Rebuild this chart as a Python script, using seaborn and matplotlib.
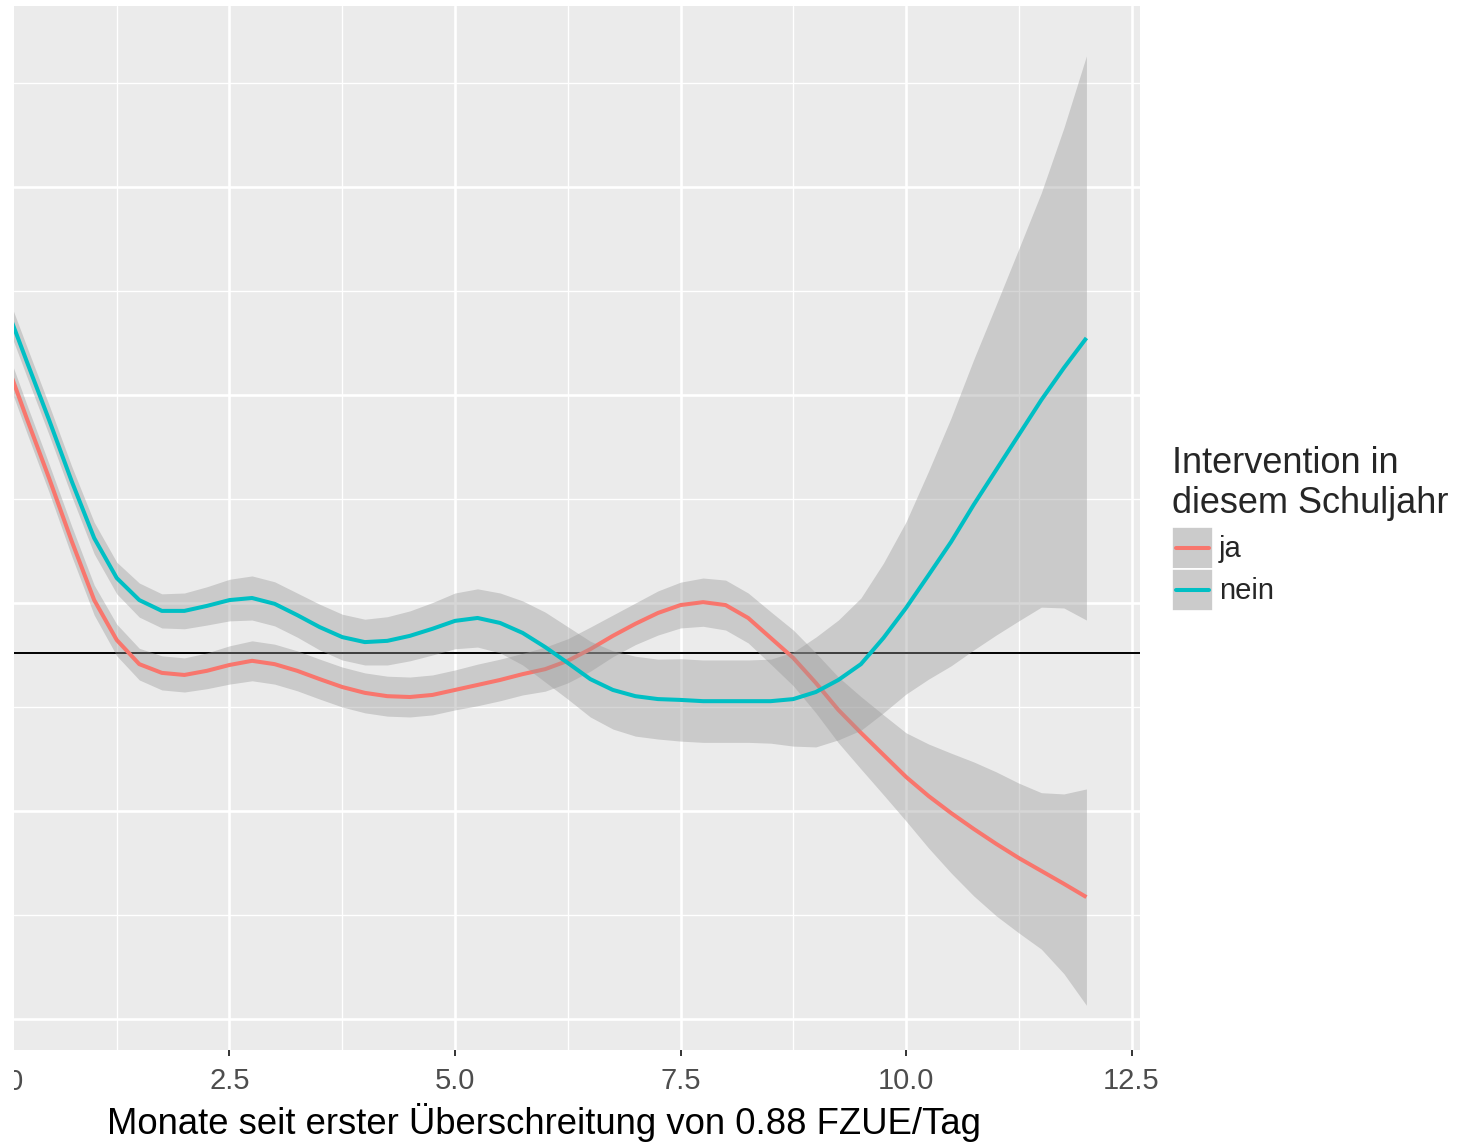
import numpy as np
import pandas as pd
import matplotlib
matplotlib.use("Agg")
import matplotlib.pyplot as plt
import matplotlib.transforms as mtransforms
from matplotlib.patches import Rectangle
from matplotlib.lines import Line2D
import seaborn as sns

# --- Daten ---
# x: Monate seit erster Überschreitung, Schrittweite 0.25
monate = np.arange(0, 12.25, 0.25)

# Gruppe "ja": geglättete Kurve und halbe Breite des Konfidenzbands
ja_fit = [1.594, 1.445, 1.300, 1.149, 1.007, 0.911, 0.853, 0.832, 0.827, 0.837,
          0.851, 0.861, 0.853, 0.837, 0.817, 0.798, 0.784, 0.776, 0.774, 0.779,
          0.791, 0.803, 0.815, 0.829, 0.841, 0.861, 0.889, 0.921, 0.950, 0.976,
          0.995, 1.002, 0.995, 0.964, 0.916, 0.868, 0.808, 0.743, 0.688, 0.635,
          0.582, 0.536, 0.495, 0.457, 0.421, 0.387, 0.356, 0.325, 0.293]
ja_ci = [0.034, 0.034, 0.034, 0.036, 0.036, 0.038, 0.038, 0.041, 0.041, 0.043,
         0.046, 0.048, 0.048, 0.048, 0.048, 0.048, 0.048, 0.048, 0.048, 0.048,
         0.048, 0.050, 0.050, 0.050, 0.053, 0.053, 0.053, 0.050, 0.050, 0.053,
         0.055, 0.058, 0.060, 0.060, 0.063, 0.067, 0.072, 0.079, 0.087, 0.096,
         0.106, 0.125, 0.144, 0.161, 0.173, 0.180, 0.188, 0.216, 0.260]

# Gruppe "nein"
nein_fit = [1.726, 1.582, 1.440, 1.293, 1.156, 1.060, 1.007, 0.981, 0.981, 0.993,
            1.007, 1.012, 0.998, 0.971, 0.942, 0.918, 0.906, 0.909, 0.921, 0.938,
            0.957, 0.964, 0.952, 0.928, 0.894, 0.856, 0.817, 0.791, 0.776, 0.769,
            0.767, 0.764, 0.764, 0.764, 0.764, 0.769, 0.786, 0.815, 0.853, 0.916,
            0.988, 1.067, 1.147, 1.236, 1.320, 1.404, 1.488, 1.565, 1.637]
nein_ci = [0.036, 0.036, 0.036, 0.036, 0.038, 0.038, 0.041, 0.041, 0.043, 0.046,
           0.050, 0.053, 0.053, 0.053, 0.055, 0.055, 0.055, 0.058, 0.060, 0.063,
           0.067, 0.070, 0.072, 0.077, 0.084, 0.087, 0.091, 0.094, 0.096, 0.096,
           0.099, 0.099, 0.099, 0.099, 0.101, 0.113, 0.132, 0.144, 0.159, 0.180,
           0.207, 0.250, 0.298, 0.349, 0.397, 0.447, 0.498, 0.577, 0.678]

gruppen = ["ja", "nein"]
farben = {"ja": "#F8766D", "nein": "#00BFC4"}
schwelle = 0.88
x_ticks = [0.0, 2.5, 5.0, 7.5, 10.0, 12.5]

df = pd.concat([
    pd.DataFrame({"monate": monate, "fit": ja_fit, "ci": ja_ci, "gruppe": "ja"}),
    pd.DataFrame({"monate": monate, "fit": nein_fit, "ci": nein_ci, "gruppe": "nein"}),
], ignore_index=True)
df["lo"] = df["fit"] - df["ci"]
df["hi"] = df["fit"] + df["ci"]

# --- Stil (ggplot-ähnlich) ---
sns.set_theme(style="darkgrid", rc={"axes.facecolor": "#EBEBEB", "grid.color": "white"})
plt.rcParams["font.family"] = ["Liberation Sans", "DejaVu Sans"]

W, H = 1481, 1143
fig = plt.figure(figsize=(W / 100, H / 100), dpi=100)
fig.patch.set_facecolor("white")
ax = fig.add_axes([14 / W, 1 - 1050 / H, 1126 / W, 1044 / H])

ax.axhline(schwelle, color="black", lw=1.4, zorder=1)

z = 2
for g in gruppen:
    d = df[df["gruppe"] == g]
    ax.fill_between(d["monate"], d["lo"], d["hi"], color="#999999", alpha=0.4,
                    lw=0, zorder=z)
    sns.lineplot(data=d, x="monate", y="fit", color=farben[g], lw=2.9, ax=ax,
                 legend=False, zorder=z + 1, solid_joinstyle="round",
                 solid_capstyle="butt")
    z += 2

# Achsen: Ticks zuerst, dann Grenzen (set_xticks würde sonst die Grenzen erweitern)
ax.set_xticks(x_ticks)
ax.set_xticklabels([f"{t:.1f}" for t in x_ticks])
ax.set_xticks([1.25, 3.75, 6.25, 8.75, 11.25], minor=True)
ax.set_yticks([0.0, 0.5, 1.0, 1.5, 2.0])
ax.set_yticks([0.25, 0.75, 1.25, 1.75, 2.25], minor=True)
ax.set_yticklabels([])
ax.set_xlim(0.111, 12.594)
ax.set_ylim(-0.0745, 2.435)
ax.grid(which="major", color="white", lw=1.9)
ax.grid(which="minor", color="white", lw=0.95)
ax.tick_params(axis="x", which="major", length=4.3, width=1.4, color="#333333",
               labelsize=21, labelcolor="#4D4D4D", pad=8, bottom=True)
ax.tick_params(axis="x", which="minor", length=0)
ax.tick_params(axis="y", which="both", length=0)
for s in ax.spines.values():
    s.set_visible(False)

# Beschriftung "0.0" liegt links ausserhalb des Panels und ist im Original abgeschnitten
trans = mtransforms.blended_transform_factory(ax.transData, fig.transFigure)
t0 = ax.text(0.0, 1 - 1082 / H, "0.0", transform=trans, ha="center", va="center",
             fontsize=21, color="#4D4D4D")
t0.set_clip_on(True)
t0.set_clip_box(mtransforms.TransformedBbox(
    mtransforms.Bbox([[14 / W, 0], [1, 1]]), fig.transFigure))

ax.set_xlabel("Monate seit erster Überschreitung von 0.88 FZUE/Tag", fontsize=26.3,
              color="black", va="center")
ax.xaxis.set_label_coords((544 - 14) / 1126, -(1122 - 1050) / 1044)
ax.set_ylabel("")

# --- Legende (von Hand, wie ggplot) ---
def fx(px):
    return px / W

def fy(py):
    return 1 - py / H

fig.text(fx(1172), fy(446), "Intervention in\ndiesem Schuljahr", fontsize=26,
         ha="left", va="top", linespacing=1.2)
for i, g in enumerate(gruppen):
    top = 527 + i * 42
    fig.patches.append(Rectangle((fx(1172), fy(top + 42)), 41 / W, 42 / H,
                                 transform=fig.transFigure, facecolor="#CBCBCB",
                                 edgecolor="white", lw=1.2))
    fig.lines.append(Line2D([fx(1176), fx(1209)], [fy(top + 21)] * 2,
                            transform=fig.transFigure, color=farben[g], lw=2.9))
    fig.text(fx(1219), fy(top + 22), g, fontsize=21, ha="left", va="center")

fig.savefig("out.png", dpi=100)
